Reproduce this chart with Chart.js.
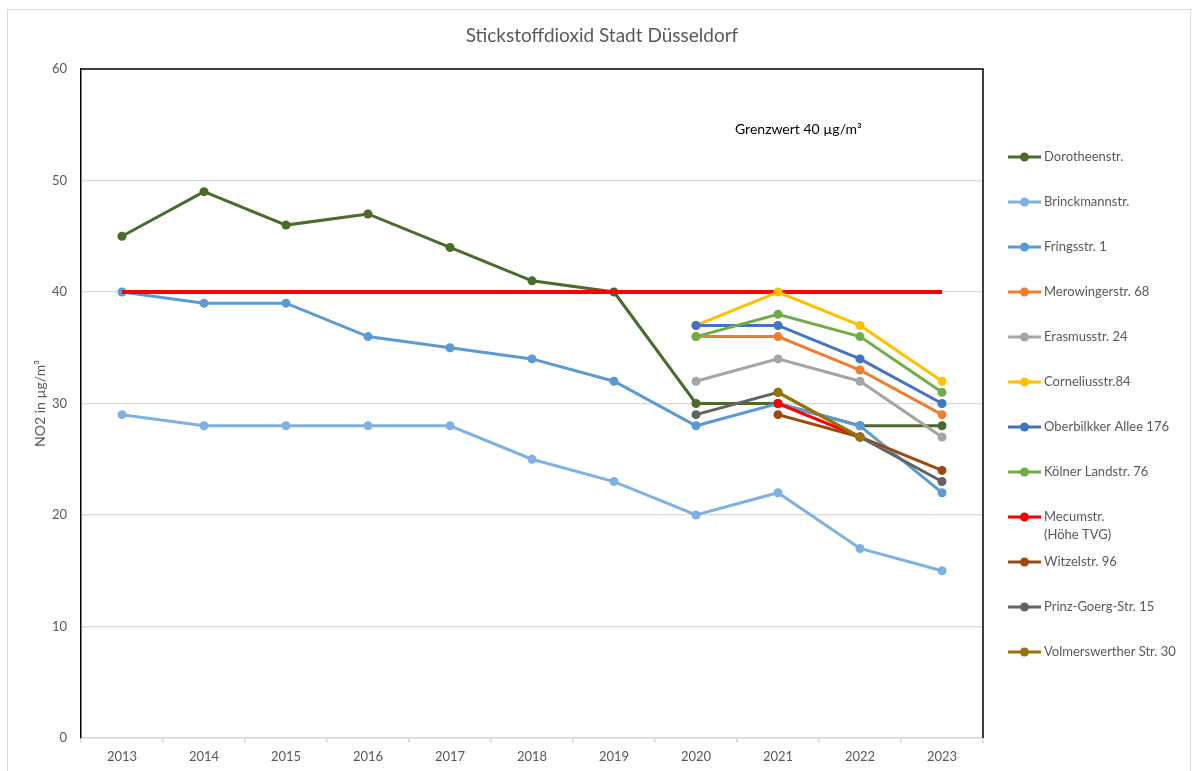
<!DOCTYPE html>
<html lang="de">
<head>
<meta charset="utf-8">
<title>Stickstoffdioxid Stadt Düsseldorf</title>
<script src="https://cdn.jsdelivr.net/npm/chart.js@4.4.1/dist/chart.umd.min.js"></script>
<style>
  html, body { margin: 0; padding: 0; background: #fff; }
  #wrap { position: relative; width: 1197px; height: 771px; }
</style>
</head>
<body>
<div id="wrap"><canvas id="chart" width="1197" height="771"></canvas></div>
<script>
// ── Données (µg/m³, moyennes annuelles) ──────────────────────
const years = ['2013','2014','2015','2016','2017','2018','2019','2020','2021','2022','2023'];

const dorotheen   = [45, 49, 46, 47, 44, 41, 40, 30, 30, 28, 28];
const brinckmann  = [29, 28, 28, 28, 28, 25, 23, 20, 22, 17, 15];
const frings      = [40, 39, 39, 36, 35, 34, 32, 28, 30, 28, 22];
const merowinger  = [null, null, null, null, null, null, null, 36, 36, 33, 29];
const erasmus     = [null, null, null, null, null, null, null, 32, 34, 32, 27];
const cornelius   = [null, null, null, null, null, null, null, 37, 40, 37, 32];
const oberbilk    = [null, null, null, null, null, null, null, 37, 37, 34, 30];
const koelner     = [null, null, null, null, null, null, null, 36, 38, 36, 31];
const mecum       = [null, null, null, null, null, null, null, null, 30, 27, null];
const witzel      = [null, null, null, null, null, null, null, null, 29, 27, 24];
const prinzGeorg  = [null, null, null, null, null, null, null, 29, 31, 27, 23];
const volmer      = [null, null, null, null, null, null, null, null, 31, 27, null];
const grenzwert   = [40, 40, 40, 40, 40, 40, 40, 40, 40, 40, 40];

const yTicks = [0, 10, 20, 30, 40, 50, 60];

const FONT = 'Lato, "Open Sans", sans-serif';
const GREY = '#595959';

// ── Séries (ordre Excel : la dernière est dessinée au-dessus) ──
const series = [
  { label: 'Dorotheenstr.',             data: dorotheen,  color: '#4b6b2a' },
  { label: 'Brinckmannstr.',            data: brinckmann, color: '#7fb1e3' },
  { label: 'Fringsstr. 1',              data: frings,     color: '#5b9bd5' },
  { label: 'Grenzwert',                 data: grenzwert,  color: '#ff0000', limit: true },
  { label: 'Merowingerstr. 68',         data: merowinger, color: '#ed7d31' },
  { label: 'Erasmusstr. 24',            data: erasmus,    color: '#a5a5a5' },
  { label: 'Corneliusstr.84',           data: cornelius,  color: '#ffc000' },
  { label: 'Oberbilkker Allee 176',     data: oberbilk,   color: '#4472c4' },
  { label: 'Kölner Landstr. 76',        data: koelner,    color: '#70ad47' },
  { label: 'Mecumstr.\n(Höhe TVG)',     data: mecum,      color: '#ff0000' },
  { label: 'Witzelstr. 96',             data: witzel,     color: '#9e480e' },
  { label: 'Prinz-Goerg-Str. 15',       data: prinzGeorg, color: '#636363' },
  { label: 'Volmerswerther Str. 30',    data: volmer,     color: '#997300' }
];

const datasets = series.map((s, i) => ({
  label           : s.label,
  data            : s.data,
  borderColor     : s.color,
  backgroundColor : s.color,
  borderWidth     : s.limit ? 4 : 3,
  pointRadius     : s.limit ? 0 : 4.5,
  pointHoverRadius: s.limit ? 0 : 5,
  pointBorderWidth: 0,
  tension         : 0,
  spanGaps        : false,
  order           : 100 - i,
  isLimit         : !!s.limit
}));

// ── Plugin : cadre, titre, bordure noire, annotation, légende ─
const decor = {
  id: 'decor',
  beforeDraw(chart) {
    const c = chart.ctx;
    c.save();
    c.strokeStyle = '#d9d9d9';
    c.lineWidth = 1;
    c.strokeRect(7.5, 9.5, 1183, 780);

    // titre centré sur toute la largeur
    c.fillStyle = GREY;
    c.font = '19px ' + FONT;
    c.textAlign = 'center';
    c.textBaseline = 'middle';
    c.fillText('Stickstoffdioxid Stadt Düsseldorf', 602, 36);
    c.restore();
  },
  afterDatasetsDraw(chart) {
    const c = chart.ctx;
    const a = chart.chartArea;
    c.save();
    // bordure noire haut / droite
    c.strokeStyle = '#000';
    c.lineWidth = 1.5;
    c.beginPath();
    c.moveTo(a.left, a.top);
    c.lineTo(a.right, a.top);
    c.lineTo(a.right, a.bottom);
    c.stroke();

    // annotation Grenzwert
    c.fillStyle = '#000';
    c.font = '14px ' + FONT;
    c.textBaseline = 'middle';
    c.textAlign = 'left';
    c.fillText('Grenzwert 40 µg/m³', 735, 129);

    // légende
    c.font = '13px ' + FONT;
    let y = 157;
    chart.data.datasets.forEach(ds => {
      if (ds.isLimit) return;
      c.strokeStyle = ds.borderColor;
      c.lineWidth = 3;
      c.beginPath();
      c.moveTo(1008, y);
      c.lineTo(1041, y);
      c.stroke();
      c.fillStyle = ds.borderColor;
      c.beginPath();
      c.arc(1024.5, y, 4.5, 0, Math.PI * 2);
      c.fill();
      c.fillStyle = GREY;
      ds.label.split('\n').forEach((t, k) => c.fillText(t, 1044, y + k * 18));
      y += 45;
    });
    c.restore();
  }
};

// ── Graphique ─────────────────────────────────────────────────
new Chart(document.getElementById('chart'), {
  type: 'line',
  data: { labels: years, datasets: datasets },
  plugins: [decor],
  options: {
    responsive: false,
    animation : false,
    layout    : { padding: { left: 0, right: 214, top: 69, bottom: 0 } },
    plugins: {
      legend : { display: false },
      tooltip: { enabled: false },
      title  : { display: false }
    },
    scales: {
      x: {
        offset : true,
        grid   : { offset: true, drawOnChartArea: false, drawTicks: true, tickLength: 5, color: '#d9d9d9', lineWidth: 1.5 },
        border : { color: '#d9d9d9', width: 1.5 },
        ticks  : { color: GREY, font: { family: FONT, size: 13 }, padding: 6, maxRotation: 0 },
        afterFit: s => { s.height = 33; }
      },
      y: {
        min: 0, max: 60,
        afterBuildTicks: s => { s.ticks = yTicks.map(v => ({ value: v })); },
        grid   : { color: ctx => ctx.tick && ctx.tick.value === 60 ? 'rgba(0,0,0,0)' : '#d9d9d9', lineWidth: 1.2, drawTicks: false },
        border : { color: '#000', width: 1.5 },
        ticks  : { color: GREY, font: { family: FONT, size: 13 }, padding: 14 },
        title  : {
          display: true,
          text   : 'NO2 in µg/m³',
          color  : GREY,
          font   : { family: FONT, size: 14 },
          padding: { top: 32, bottom: 0 }
        },
        afterFit: s => { s.width = 81; }
      }
    }
  }
});
</script>
</body>
</html>
